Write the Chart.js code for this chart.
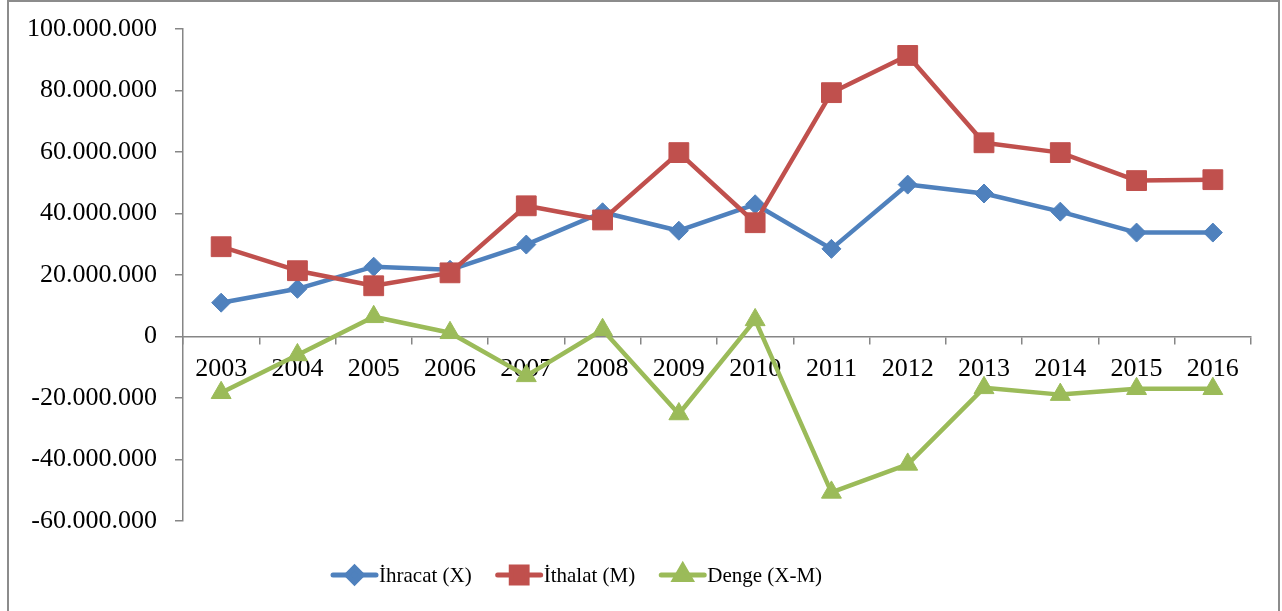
<!DOCTYPE html>
<html>
<head>
<meta charset="utf-8">
<script src="https://cdn.jsdelivr.net/npm/chart.js@4.4.1/dist/chart.umd.min.js"></script>
<style>
    body { margin: 0; background: #ffffff; }
    #wrap { width: 1282px; height: 611px; }
</style>
</head>
<body>
<div id="wrap"><canvas id="tradeChart" width="1282" height="611"></canvas></div>
<script>
const years = ['2003', '2004', '2005', '2006', '2007', '2008', '2009', '2010', '2011', '2012', '2013', '2014', '2015', '2016'];
const ihracat = [11000000, 15500000, 22700000, 21700000, 29900000, 40400000, 34400000, 43000000, 28500000, 49400000, 46500000, 40600000, 33800000, 33800000];
const ithalat = [29200000, 21400000, 16500000, 20700000, 42500000, 37900000, 59800000, 37000000, 79300000, 91400000, 63000000, 59800000, 50700000, 51000000];
const denge = [-18300000, -6000000, 6400000, 1200000, -12800000, 2200000, -25200000, 5400000, -50700000, -41600000, -16700000, -18900000, -17000000, -17000000];
const seriesNames = ['İhracat (X)', 'İthalat (M)', 'Denge (X-M)'];
const yTicks = { min: -60000000, max: 100000000, step: 20000000 };

const axisFont = { family: "'Liberation Serif', 'Times New Roman', serif", size: 26 };
const axisGray = '#868686';

function formatDots(v) {
    return String(v).replace(/\B(?=(\d{3})+(?!\d))/g, '.');
}

// grey frame round the whole chart
const framePlugin = {
    id: 'frame',
    beforeDraw(chart) {
        const ctx = chart.ctx;
        ctx.save();
        ctx.strokeStyle = '#8c8c8c';
        ctx.lineWidth = 2;
        ctx.strokeRect(8, 1, 1271, 700);
        ctx.restore();
    }
};

// legend with a line through the marker, like the office charts
const lineLegend = {
    id: 'lineLegend',
    afterDraw(chart) {
        const ctx = chart.ctx;
        const y = 575;
        let x = 333;
        ctx.save();
        ctx.font = "21px 'Liberation Serif', 'Times New Roman', serif";
        ctx.textBaseline = 'middle';
        chart.data.datasets.forEach(ds => {
            ctx.strokeStyle = ds.borderColor;
            ctx.lineWidth = 5;
            ctx.lineCap = 'round';
            ctx.beginPath();
            ctx.moveTo(x, y);
            ctx.lineTo(x + 43, y);
            ctx.stroke();
            ctx.fillStyle = ds.backgroundColor;
            ctx.strokeStyle = ds.borderColor;
            Chart.helpers.drawPoint(ctx, {
                pointStyle: ds.pointStyle,
                radius: ds.pointRadius * 0.8,
                borderWidth: 1
            }, x + 21.5, y);
            ctx.fillStyle = '#000000';
            ctx.fillText(ds.label, x + 46, y + 1);
            x += 46 + ctx.measureText(ds.label).width + 26;
        });
        ctx.restore();
    }
};

function initChart() {
    const ctx = document.getElementById('tradeChart').getContext('2d');
    new Chart(ctx, {
        type: 'line',
        data: {
            labels: years,
            datasets: [{
                label: seriesNames[0],
                data: ihracat,
                borderColor: '#4F81BD',
                backgroundColor: '#4F81BD',
                pointStyle: 'rectRot',
                pointRadius: 9.5,
                order: 3
            }, {
                label: seriesNames[1],
                data: ithalat,
                borderColor: '#C0504D',
                backgroundColor: '#C0504D',
                pointStyle: 'rect',
                pointRadius: 14,
                order: 2
            }, {
                label: seriesNames[2],
                data: denge,
                borderColor: '#9BBB59',
                backgroundColor: '#9BBB59',
                pointStyle: 'triangle',
                pointRadius: 11.5,
                order: 1
            }]
        },
        options: {
            responsive: false,
            animation: false,
            devicePixelRatio: 1,
            elements: {
                line: { borderWidth: 4.5, tension: 0, borderJoinStyle: 'round', borderCapStyle: 'round' },
                point: { borderWidth: 1, hoverRadius: 10 }
            },
            layout: { padding: { top: 29, right: 31, bottom: 90, left: 0 } },
            plugins: {
                legend: { display: false },
                tooltip: { enabled: false }
            },
            scales: {
                x: {
                    position: { y: 0 },
                    offset: true,
                    grid: { offset: true, drawOnChartArea: false, tickLength: 7, color: axisGray, lineWidth: 1.5 },
                    border: { color: axisGray, width: 1.5 },
                    ticks: { padding: 10, maxRotation: 0, autoSkip: false, color: '#000000', font: axisFont }
                },
                y: {
                    min: yTicks.min,
                    max: yTicks.max,
                    grid: { drawOnChartArea: false, tickLength: 8, color: axisGray, lineWidth: 1.5 },
                    border: { color: axisGray, width: 1.5 },
                    ticks: {
                        stepSize: yTicks.step,
                        padding: 18,
                        color: '#000000',
                        font: axisFont,
                        callback: v => formatDots(v)
                    },
                    afterFit: scale => {
                        scale.width = 183;
                        // labels fit inside the padding already
                        scale.paddingTop = 0;
                        scale.paddingBottom = 0;
                    }
                }
            }
        },
        plugins: [framePlugin, lineLegend]
    });
}

window.addEventListener('DOMContentLoaded', initChart);
</script>
</body>
</html>
